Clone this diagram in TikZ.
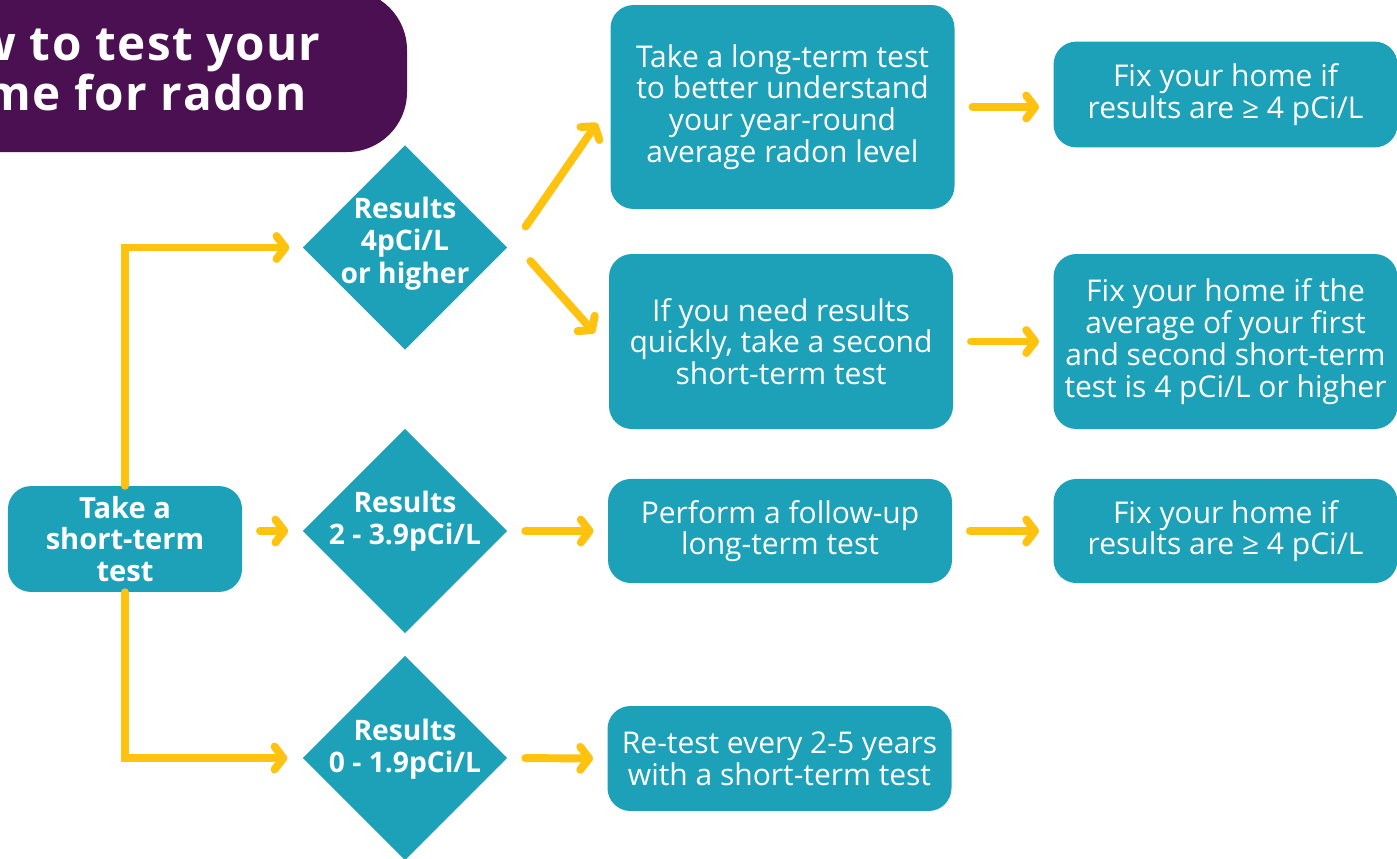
\documentclass[tikz,border=0pt]{standalone}
\usepackage{fontspec}
\setmainfont{Open Sans}
\newfontfamily\titlefont[LetterSpace=3]{Open Sans}
\usetikzlibrary{shapes.geometric, arrows.meta, calc}

\definecolor{radonteal}{HTML}{1CA1B9}
\definecolor{radonpurple}{HTML}{4A1052}
\definecolor{radonyellow}{HTML}{FFC20E}

\begin{document}
\begin{tikzpicture}[x=0.5669pt, y=-0.5669pt,
    box/.style={fill=radonteal, rounded corners=13pt, text=white, align=center,
        font=\fontsize{17}{18}\selectfont, minimum width=195pt, inner sep=0pt},
    dia/.style={diamond, fill=radonteal, minimum width=116pt, minimum height=116pt, inner sep=0pt},
    diatext/.style={text=white, align=center, font=\bfseries\fontsize{16}{18.5}\selectfont},
    arr/.style={draw=radonyellow, line width=4.5pt, line cap=round,
        -{Straight Barb[length=5pt, width=13pt, round]}, shorten <=10pt, shorten >=8pt}]
    \useasboundingbox (0,0) rectangle (1397,858);

    % Title banner
    \fill[radonpurple, rounded corners=34pt] (-120,-10) rectangle (407,152);
    \node[text=white, align=center, font=\titlefont\bfseries\fontsize{27}{26}\selectfont] (title) at (114,69) {How to test your\\home for radon};

    % Start and decisions
    \node[box, minimum width=132.7pt, minimum height=60pt, font=\bfseries\fontsize{16.5}{18}\selectfont] (start) at (125,539) {Take a\\short-term\\test};
    \node[dia] (d1) at (405,247.5) {};
    \node[dia] (d2) at (405,531) {};
    \node[dia] (d3) at (405,758) {};
    \node[diatext] (d1t) at ($(d1)+(0,-4)$) {Results\\4pCi/L\\or higher};
    \node[diatext] (d2t) at ($(d2)+(0,-10)$) {Results\\2 - 3.9pCi/L};
    \node[diatext] (d3t) at ($(d3)+(0,-9)$) {Results\\0 - 1.9pCi/L};

    % Next steps
    \node[box, minimum height=115.6pt] (long) at (782.5,107) {Take a long-term test\\to better understand\\your year-round\\average radon level};
    \node[box, minimum height=99.2pt] (quick) at (781,341.5) {If you need results\\quickly, take a second\\short-term test};
    \node[box, minimum height=59pt] (follow) at (780,531) {Perform a follow-up\\long-term test};
    \node[box, minimum height=59.5pt] (retest) at (779.5,758.5) {Re-test every 2-5 years\\with a short-term test};

    % Fix your home
    \node[box, minimum height=60pt] (fix1) at (1225.5,94.5) {Fix your home if\\results are ≥ 4 pCi/L};
    \node[box, minimum height=99.2pt] (fix2) at (1225.5,341.5) {Fix your home if the\\average of your first\\and second short-term\\test is 4 pCi/L or higher};
    \node[box, minimum height=59pt] (fix3) at (1225.5,531) {Fix your home if\\results are ≥ 4 pCi/L};

    % Arrows
    \draw[arr, shorten <=0pt, shorten >=7.4pt] (start.north) |- (d1.west);
    \draw[arr, shorten <=0pt, shorten >=8.5pt] (start.south) |- (d3.west);
    \draw[arr] (start.east |- d2) -- (d2.west);
    \draw[arr, shorten <=0pt, shorten >=0pt] ($(d1.east)+(18,-21)$) -- ($(long.west)+(-13,16)$);
    \draw[arr, shorten <=0pt, shorten >=0pt] ($(d1.east)+(22.7,13.5)$) -- ($(quick.west)+(-14,-8.5)$);
    \draw[arr] (d2.east) -- (follow.west);
    \draw[arr] (d3.east) -- (retest.west);
    \draw[arr] (long.east) -- (long.east -| fix1.west);
    \draw[arr] (quick.east) -- (fix2.west);
    \draw[arr] (follow.east) -- (fix3.west);
\end{tikzpicture}
\end{document}
